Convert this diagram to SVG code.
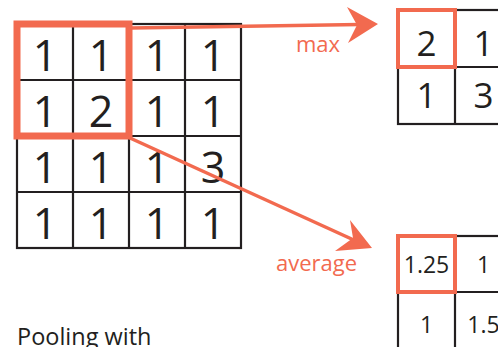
<svg xmlns="http://www.w3.org/2000/svg" width="498" height="347" viewBox="0 0 498 347">
  <defs>
    <style>
      .grid { fill: none; stroke: #231f20; stroke-width: 2.2; }
      .hl { fill: none; stroke: #f26a4f; }
      .num { font-family: "Open Sans", "Liberation Sans", sans-serif; fill: #231f20; text-anchor: middle; }
      .big { font-size: 43px; }
      .mid { font-size: 35px; }
      .small { font-size: 23px; }
      .lbl { font-family: "Open Sans", "Liberation Sans", sans-serif; fill: #f26a4f; font-size: 22px; }
      .cap { font-family: "Open Sans", "Liberation Sans", sans-serif; fill: #231f20; font-size: 23.5px; }
      .conn { stroke: #f26a4f; stroke-width: 3.5; fill: none; }
      .head { fill: #f26a4f; }
    </style>
  </defs>

  <!-- 4x4 input feature map -->
  <g id="input">
    <rect class="grid" x="17" y="24" width="224" height="224"/>
    <path class="grid" d="M73 24V248M129 24V248M185 24V248M17 80H241M17 136H241M17 192H241"/>
    <g class="num big">
      <text x="45" y="71">1</text><text x="101" y="71">1</text><text x="157" y="71">1</text><text x="213" y="71">1</text>
      <text x="45" y="127">1</text><text x="101" y="127">2</text><text x="157" y="127">1</text><text x="213" y="127">1</text>
      <text x="45" y="183">1</text><text x="101" y="183">1</text><text x="157" y="183">1</text><text x="213" y="183">3</text>
      <text x="45" y="239">1</text><text x="101" y="239">1</text><text x="157" y="239">1</text><text x="213" y="239">1</text>
    </g>
    <rect class="hl" x="17" y="24" width="112" height="112" stroke-width="7"/>
  </g>

  <!-- connectors -->
  <g id="connectors">
    <line class="conn" x1="131" y1="28" x2="360" y2="24.5"/>
    <path class="head" d="M378 24 L347 7 L357 25 L348 43 Z"/>
    <text class="lbl" x="296" y="52">max</text>
    <line class="conn" x1="130" y1="138" x2="356" y2="241"/>
    <path class="head" d="M372 248 L350 220 L353 238 L335 251 Z"/>
    <text class="lbl" x="276" y="271">average</text>
  </g>

  <!-- max pooling output -->
  <g id="max-output">
    <rect class="grid" x="398" y="10" width="114" height="114"/>
    <path class="grid" d="M455 10V124M398 67H512"/>
    <g class="num mid">
      <text x="426.5" y="56">2</text><text x="483.5" y="56">1</text>
      <text x="426.5" y="108">1</text><text x="483.5" y="108">3</text>
    </g>
    <rect class="hl" x="398" y="10" width="57" height="57" stroke-width="4"/>
  </g>

  <!-- average pooling output -->
  <g id="avg-output">
    <rect class="grid" x="398" y="236" width="114" height="114"/>
    <path class="grid" d="M455 236V350M398 292H512"/>
    <g class="num small">
      <text x="426.5" y="273">1.25</text><text x="483.5" y="273">1</text>
      <text x="426.5" y="333">1</text><text x="483.5" y="333">1.5</text>
    </g>
    <rect class="hl" x="398" y="236" width="57" height="56" stroke-width="4"/>
  </g>

  <text class="cap" x="17" y="345">Pooling with</text>
</svg>
